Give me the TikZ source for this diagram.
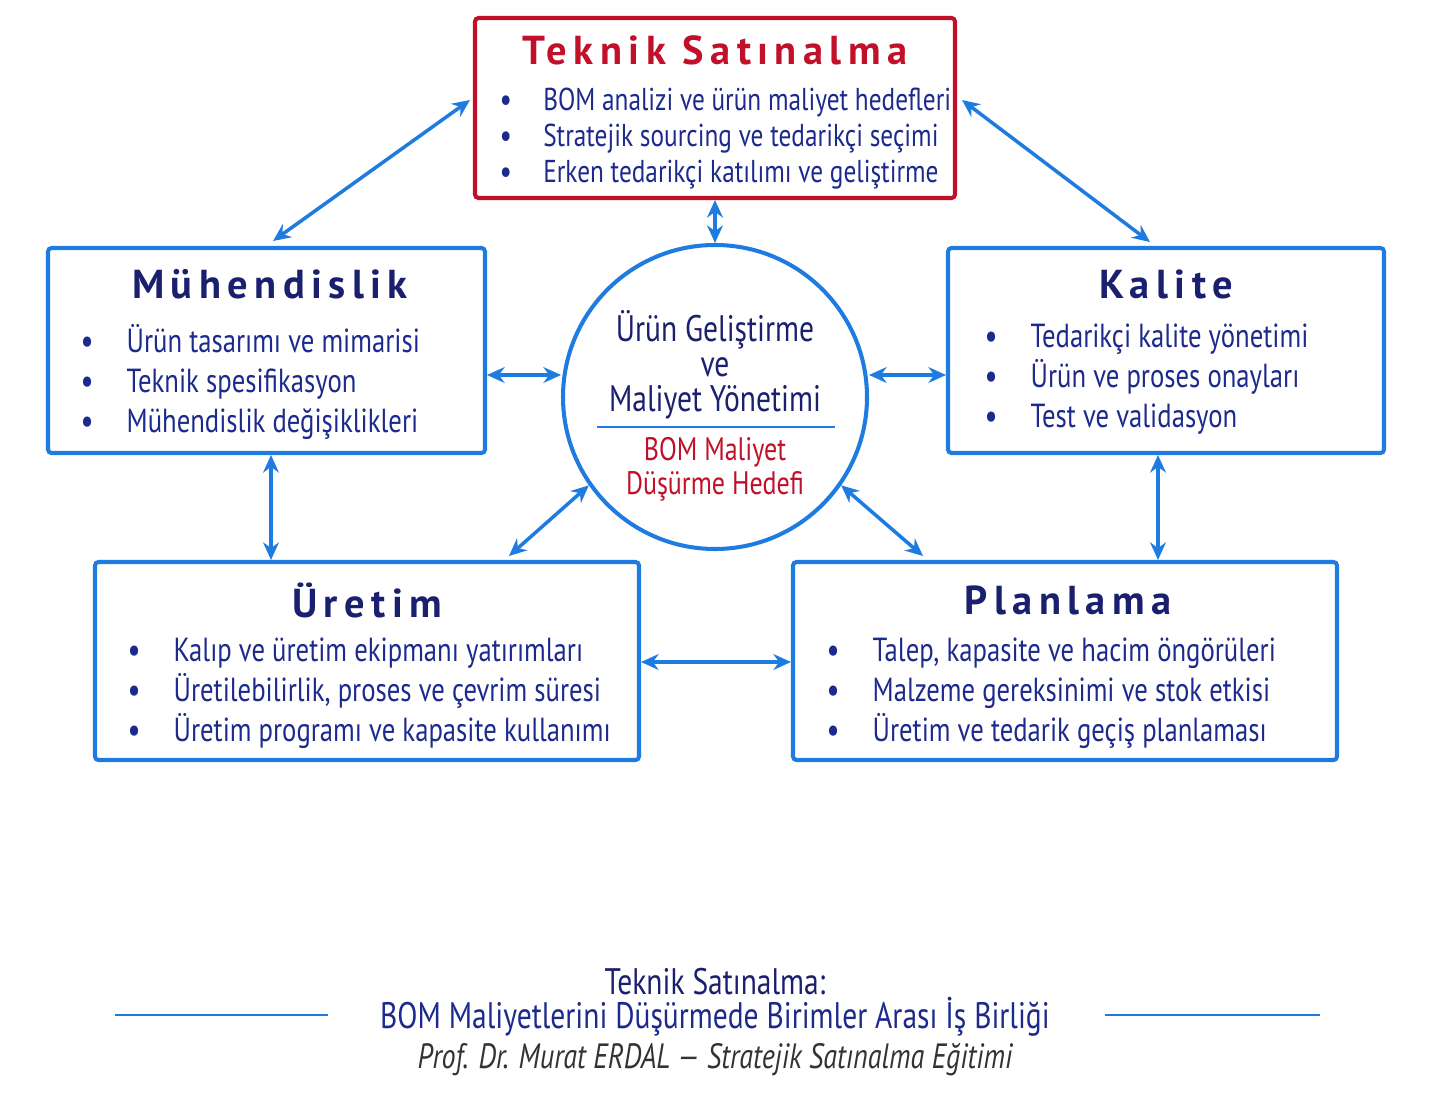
\documentclass[tikz,border=0pt]{standalone}
\usepackage{fontspec}
\setmainfont{PT Sans}[FakeStretch=0.8]
\newfontfamily\titlefont{PT Sans}[LetterSpace=16,FakeStretch=1.0]
\usetikzlibrary{positioning,arrows.meta,calc}
\definecolor{navy}{HTML}{1A1F6E}
\definecolor{lineblue}{HTML}{1E7BE0}
\definecolor{boxred}{HTML}{C0102A}
\definecolor{txtblue}{HTML}{1B2A8C}
\tikzset{
  box/.style={draw=lineblue, line width=2.3pt, rounded corners=2pt, inner sep=0pt},
  boxtitle/.style={text=navy, font=\titlefont\bfseries\fontsize{23}{26}\selectfont},
  items/.style={text=txtblue, align=left, font=\fontsize{19}{22.7}\selectfont, anchor=north west},
  link/.style={draw=lineblue, line width=2pt, {Stealth[length=10pt,width=9pt]}-{Stealth[length=10pt,width=9pt]}},
}
\newcommand{\itm}[1]{{\bfseries\textbullet}\hspace{1em}#1}
\begin{document}
\begin{tikzpicture}[x=0.02cm,y=-0.02cm]
\useasboundingbox (0,0) rectangle (1433,1098);

% Boxes
\node (teknik) [box, draw=boxred, minimum width=480*0.02cm, minimum height=180*0.02cm] at (715,108) {};
\node (muh) [box, minimum width=437*0.02cm, minimum height=205*0.02cm] at (266.5,350.5) {};
\node (kalite) [box, minimum width=436*0.02cm, minimum height=205*0.02cm] at (1166,350.5) {};
\node (uretim) [box, minimum width=544*0.02cm, minimum height=198*0.02cm] at (367,661) {};
\node (plan) [box, minimum width=544*0.02cm, minimum height=198*0.02cm] at (1065,661) {};
\node (center) [circle, draw=lineblue, line width=2.3pt, minimum size=304*0.02cm] at (715,397) {};

% Titles
\node [boxtitle, text=boxred] at (715,50) {Teknik Satınalma};
\node [boxtitle] at (270,284) {Mühendislik};
\node [boxtitle] at (1166,284) {Kalite};
\node [boxtitle] at (367,600) {Üretim};
\node [boxtitle] at (1068,600) {Planlama};

% Bullets
\node [items, font=\fontsize{18}{20.5}\selectfont] at (494,82) {\itm{BOM analizi ve ürün maliyet hedefleri}\\\itm{Stratejik sourcing ve tedarikçi seçimi}\\\itm{Erken tedarikçi katılımı ve geliştirme}};
\node [items] at (75,318) {\itm{Ürün tasarımı ve mimarisi}\\\itm{Teknik spesifikasyon}\\\itm{Mühendislik değişiklikleri}};
\node [items] at (979,318) {\itm{Tedarikçi kalite yönetimi}\\\itm{Ürün ve proses onayları}\\\itm{Test ve validasyon}};
\node [items] at (122,632) {\itm{Kalıp ve üretim ekipmanı yatırımları}\\\itm{Üretilebilirlik, proses ve çevrim süresi}\\\itm{Üretim programı ve kapasite kullanımı}};
\node [items] at (821,632) {\itm{Talep, kapasite ve hacim öngörüleri}\\\itm{Malzeme gereksinimi ve stok etkisi}\\\itm{Üretim ve tedarik geçiş planlaması}};

% Circle text
\node (goal) [text=navy, align=center, font=\fontsize{21}{20}\selectfont] at (715,365) {Ürün Geliştirme\\ve\\Maliyet Yönetimi};
\draw [lineblue, line width=1pt] (597,427) -- (835,427);
\node (bom) [text=boxred, align=center, font=\fontsize{18.5}{19.5}\selectfont] at (715,469) {BOM Maliyet\\Düşürme Hedefi};

% Connector ends
\coordinate (tl) at (470,100);
\coordinate (tr) at (962,100);
\coordinate (mt) at (273,241);
\coordinate (kt) at (1150,242);
\coordinate (ut) at (509,556);
\coordinate (pt) at (923,556);

% Arrows
\draw [link] (tl) -- (mt);
\draw [link] (tr) -- (kt);
\draw [link] (teknik.south) -- (center.north);
\draw [link] (muh.east |- 0,375) -- (center.west |- 0,375);
\draw [link] (center.east |- 0,375) -- (kalite.west |- 0,375);
\draw [link] (muh.south -| 271,0) -- (uretim.north -| 271,0);
\draw [link] (kalite.south -| 1158,0) -- (plan.north -| 1158,0);
\draw [link] (center.215) -- (ut);
\draw [link] (center.-35) -- (pt);
\draw [link] (uretim.east |- 0,662) -- (plan.west |- 0,662);

% Footer
\node (f1) [text=navy, font=\fontsize{21}{20}\selectfont] at (715,982) {Teknik Satınalma:};
\node (f2) [text=txtblue, font=\fontsize{21}{20}\selectfont] at (715,1017) {BOM Maliyetlerini Düşürmede Birimler Arası İş Birliği};
\node (f3) [text=black!80, font=\itshape\fontsize{20}{20}\selectfont] at (715,1060) {Prof. Dr. Murat ERDAL — Stratejik Satınalma Eğitimi};
\draw [lineblue, line width=1pt] (115,1015) -- (328,1015);
\draw [lineblue, line width=1pt] (1105,1015) -- (1320,1015);
\end{tikzpicture}
\end{document}
